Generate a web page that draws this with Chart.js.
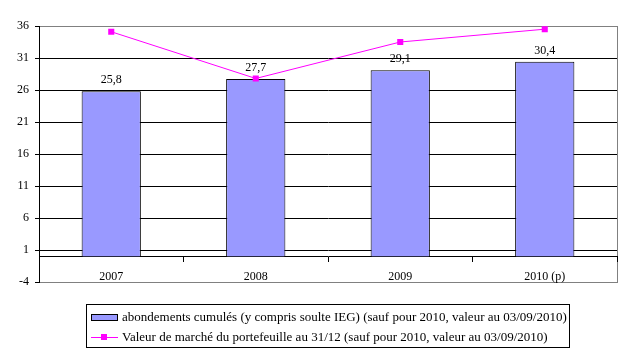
<!DOCTYPE html>
<html><head><meta charset="utf-8">
<script src="https://cdn.jsdelivr.net/npm/chart.js@4/dist/chart.umd.min.js"></script>
<style>
html,body{margin:0;padding:0;background:#fff;}
#wrap{position:relative;width:632px;height:357px;}
#legend{position:absolute;left:86px;top:304px;width:482px;height:42px;border:1px solid #000;font:13px "Liberation Serif",serif;color:#000;}
.row{position:absolute;left:0;height:16px;line-height:16px;white-space:nowrap;}
.sw{position:absolute;left:4px;top:5px;width:25px;height:5px;background:#9999FF;border:1px solid #000;}
.ln{position:absolute;left:4px;top:8px;width:27px;height:1px;background:#FF00FF;}
.mk{position:absolute;left:14px;top:5px;width:6px;height:6px;background:#FF00FF;}
.tx{position:absolute;left:35px;top:0;}
</style></head>
<body>
<div id="wrap">
<canvas id="c" width="632" height="357"></canvas>
<div id="legend">
 <div class="row" style="top:4px"><div class="sw"></div><span class="tx">abondements cumulés (y compris soulte IEG) (sauf pour 2010, valeur au 03/09/2010)</span></div>
 <div class="row" style="top:24px"><div class="ln"></div><div class="mk"></div><span class="tx">Valeur de marché du portefeuille au 31/12 (sauf pour 2010, valeur au 03/09/2010)</span></div>
</div>
</div>
<script>
const categories = ['2007', '2008', '2009', '2010 (p)'];
const abondements = [25.8, 27.7, 29.1, 30.4];
const valeurMarche = [35.1, 27.8, 33.5, 35.5];
const yTicks = [-4, 1, 6, 11, 16, 21, 26, 31, 36];
const seriesNames = [
  'abondements cumulés (y compris soulte IEG) (sauf pour 2010, valeur au 03/09/2010)',
  'Valeur de marché du portefeuille au 31/12 (sauf pour 2010, valeur au 03/09/2010)'
];

const FONT = {family: '"Liberation Serif", serif', size: 12};

const frame = {
  id: 'frame',
  beforeDraw(chart) {
    const {ctx, chartArea: a} = chart;
    ctx.save();
    ctx.strokeStyle = '#808080';
    ctx.lineWidth = 1;
    ctx.strokeRect(Math.round(a.left) + 0.5, Math.round(a.top) + 0.5, Math.round(a.right - a.left), Math.round(a.bottom - a.top));
    ctx.restore();
  }
};

const barLabels = {
  id: 'barLabels',
  afterDatasetsDraw(chart) {
    const {ctx} = chart;
    chart.data.datasets.forEach((ds, i) => {
      if (ds.type !== 'bar') return;
      const meta = chart.getDatasetMeta(i);
      ctx.save();
      ctx.font = '12px "Liberation Serif", serif';
      ctx.fillStyle = '#000';
      ctx.textAlign = 'center';
      ctx.textBaseline = 'bottom';
      meta.data.forEach((el, j) => {
        ctx.fillText(String(ds.data[j]).replace('.', ','), el.x, el.y - 5);
      });
      ctx.restore();
    });
  }
};

new Chart(document.getElementById('c'), {
  data: {
    labels: categories,
    datasets: [
      {
        type: 'line',
        label: seriesNames[1],
        data: valeurMarche,
        borderColor: '#FF00FF',
        backgroundColor: '#FF00FF',
        borderWidth: 1,
        pointStyle: 'rect',
        pointRadius: 4.3,
        pointBorderWidth: 0,
        pointBackgroundColor: '#FF00FF',
        tension: 0,
        order: 0
      },
      {
        type: 'bar',
        label: seriesNames[0],
        data: abondements,
        backgroundColor: '#9999FF',
        borderColor: '#000',
        borderWidth: 1,
        barPercentage: 0.41,
        categoryPercentage: 1,
        order: 1
      }
    ]
  },
  options: {
    responsive: false,
    animation: false,
    layout: {padding: {left: 0, top: 26, right: 15, bottom: 75}},
    plugins: {legend: {display: false}, tooltip: {enabled: false}},
    scales: {
      x: {
        position: {y: 0},
        offset: true,
        grid: {display: true, drawOnChartArea: false, drawTicks: true, tickLength: 5, offset: true, color: '#000'},
        border: {display: true, color: '#000', width: 1},
        ticks: {font: FONT, color: '#000', padding: 8, maxRotation: 0}
      },
      y: {
        min: -4,
        max: 36,
        afterBuildTicks(scale) { scale.ticks = yTicks.map(v => ({value: v})); },
        afterFit(scale) { scale.width = 39; },
        grid: {
          color: ctx => (ctx.tick && (ctx.tick.value === 36 || ctx.tick.value === -4)) ? '#808080' : '#000',
          tickColor: '#000',
          tickLength: 4,
          lineWidth: 1
        },
        border: {display: true, color: '#000', width: 1},
        ticks: {font: FONT, color: '#000', padding: 6}
      }
    }
  },
  plugins: [frame, barLabels]
});
</script>
</body></html>
